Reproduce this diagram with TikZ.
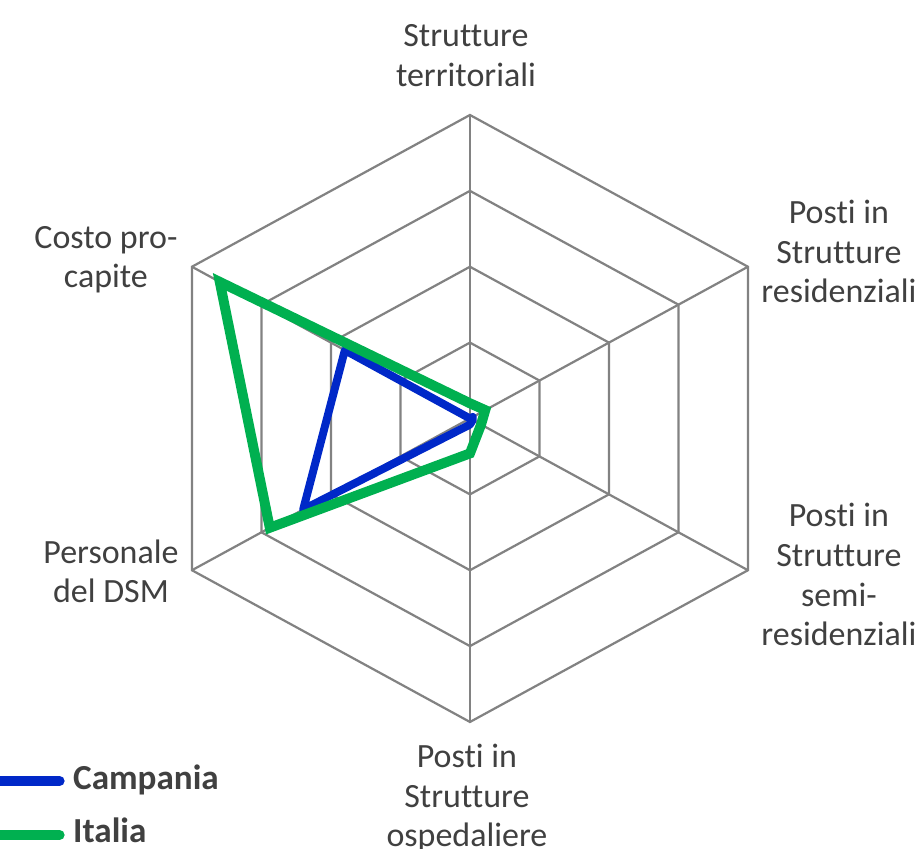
\documentclass[tikz,border=0pt]{standalone}
\usepackage{fontspec}
\setmainfont[Ligatures=NoCommon]{Carlito}
\definecolor{gridgray}{RGB}{130,130,130}
\definecolor{campaniablue}{RGB}{0,40,200}
\definecolor{italiagreen}{RGB}{0,176,80}
\definecolor{labelgray}{RGB}{64,64,64}
\begin{document}
\begin{tikzpicture}[x=1.0577cm,y=1cm]
	\tikzstyle{grid}=[draw=gridgray,line width=1.9pt]
	\tikzstyle{axislabel}=[text=labelgray,font=\fontsize{29}{34}\selectfont,align=center,inner sep=0,anchor=base]
	\tikzstyle{legend}=[axislabel,font=\fontsize{30}{34}\selectfont\bfseries,anchor=base west]
	\tikzstyle{campania}=[draw=campaniablue,line width=6.8pt,line join=round]
	\tikzstyle{italia}=[draw=italiagreen,line width=8.5pt]
	\def\R{9.105}
	\path[use as bounding box] (-13.33,-12.915) rectangle (12.85,12.555);
	\coordinate (centre) at (0,0);
	\foreach \r in {0.25,0.5,0.75,1}
		\draw[grid] (90:{\r*\R}) -- (30:{\r*\R}) -- (-30:{\r*\R}) -- (-90:{\r*\R}) -- (-150:{\r*\R}) -- (150:{\r*\R}) -- cycle;
	\foreach \a in {90,30,-30,-90,-150,150}
		\draw[grid] (centre) -- (\a:\R);
	\draw[campania] (90:{0.0*\R}) -- (30:{0.01*\R}) -- (-30:{0.01*\R}) -- (-90:{0.02*\R}) -- (-150:{0.6*\R}) -- (150:{0.45*\R}) -- cycle;
	\draw[italia] (90:{0.05*\R}) -- (30:{0.055*\R}) -- (-30:{0.04*\R}) -- (-90:{0.115*\R}) -- (-150:{0.72*\R}) -- (150:{0.9*\R}) -- cycle;
	\node (territoriali) [axislabel] at (-0.12cm,9.954cm) {Strutture\\territoriali};
	\node (residenziali) [axislabel] at (11.07cm,3.465cm) {Posti in\\Strutture\\residenziali};
	\node (semiresidenziali) [axislabel] at (11.07cm,-6.825cm) {Posti in\\Strutture\\semi-\\residenziali};
	\node (ospedaliere) [axislabel] at (-0.09cm,-12.855cm) {Posti in\\Strutture\\ospedaliere};
	\node (personale) [axislabel] at (-10.77cm,-5.535cm) {Personale\\del DSM};
	\node (costo) [axislabel] at (-10.92cm,3.915cm) {Costo pro-\\capite};
	\coordinate (legcampania) at (-14.4cm,-10.875cm);
	\coordinate (legitalia) at (-14.4cm,-12.495cm);
	\node (campanialabel) [legend] at (-11.91cm,-11.145cm) {Campania};
	\node (italialabel) [legend] at (-11.91cm,-12.735cm) {Italia};
	\draw[campania,line width=8.5pt,line cap=round,shorten >=0.4cm] (legcampania) -- (legcampania -| campanialabel.west);
	\draw[italia,line cap=round,shorten >=0.4cm] (legitalia) -- (legitalia -| italialabel.west);
\end{tikzpicture}
\end{document}
